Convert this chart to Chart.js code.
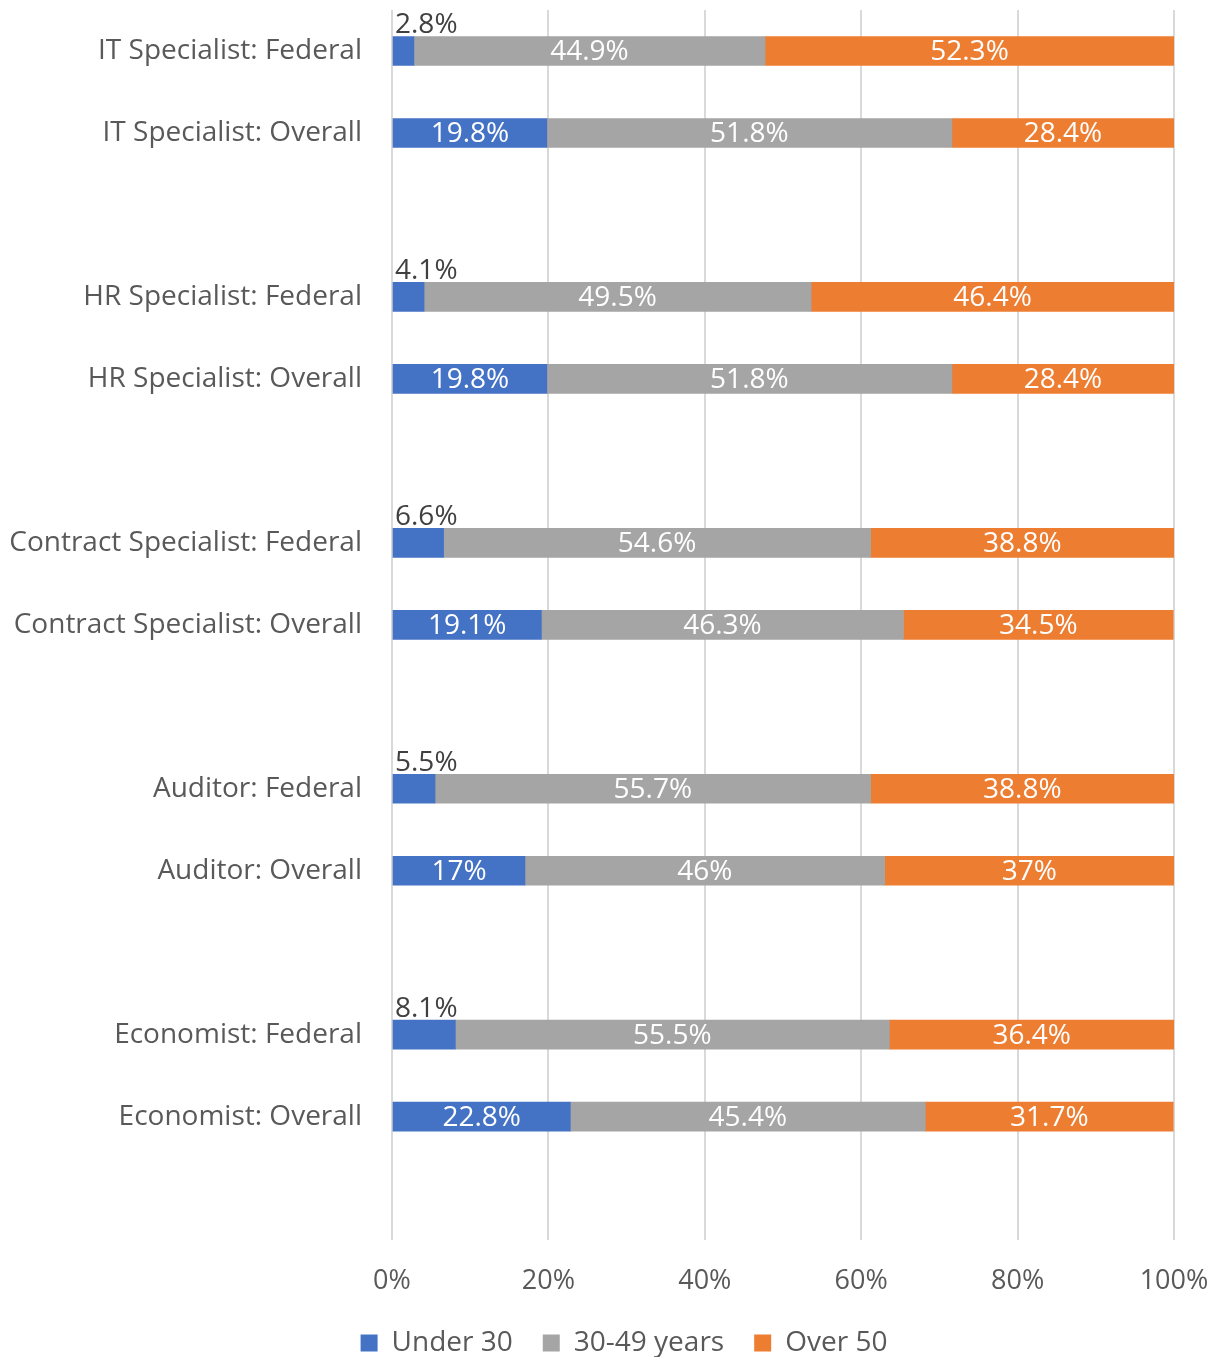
<!DOCTYPE html>
<html>
<head>
<meta charset="utf-8">
<script src="https://cdn.jsdelivr.net/npm/chart.js@4"></script>
<style>
  body { margin: 0; background: #fff; }
  canvas { display: block; }
</style>
</head>
<body>
<canvas id="ageChart" width="1217" height="1357"></canvas>
<script>
// rows top to bottom, blank rows separate the occupations
const categories = [
  'IT Specialist: Federal', 'IT Specialist: Overall', '',
  'HR Specialist: Federal', 'HR Specialist: Overall', '',
  'Contract Specialist: Federal', 'Contract Specialist: Overall', '',
  'Auditor: Federal', 'Auditor: Overall', '',
  'Economist: Federal', 'Economist: Overall', ''
];
const seriesNames = ['Under 30', '30-49 years', 'Over 50'];
const under30 = [2.8, 19.8, null, 4.1, 19.8, null, 6.6, 19.1, null, 5.5, 17, null, 8.1, 22.8, null];
const age30to49 = [44.9, 51.8, null, 49.5, 51.8, null, 54.6, 46.3, null, 55.7, 46, null, 55.5, 45.4, null];
const over50 = [52.3, 28.4, null, 46.4, 28.4, null, 38.8, 34.5, null, 38.8, 37, null, 36.4, 31.7, null];
const xTicks = [0, 20, 40, 60, 80, 100];

const FONT = '"Open Sans", sans-serif';

// value labels: white inside the bars, small federal "Under 30" shown above the bar
const barLabels = {
  id: 'barLabels',
  afterDatasetsDraw(chart) {
    const ctx = chart.ctx;
    ctx.save();
    ctx.font = '28px ' + FONT;
    chart.data.datasets.forEach((ds, di) => {
      const meta = chart.getDatasetMeta(di);
      meta.data.forEach((bar, i) => {
        const v = ds.data[i];
        if (v == null) return;
        const txt = v + '%';
        if (di === 0 && categories[i].endsWith('Federal')) {
          ctx.fillStyle = '#404040';
          ctx.textAlign = 'left';
          ctx.textBaseline = 'bottom';
          ctx.fillText(txt, bar.base + 2, bar.y - bar.height / 2 + 3);
        } else {
          ctx.fillStyle = '#ffffff';
          ctx.textAlign = 'center';
          ctx.textBaseline = 'middle';
          ctx.fillText(txt, (bar.x + bar.base) / 2, bar.y + 1);
        }
      });
    });
    ctx.restore();
  }
};

// legend sits a bit right of the canvas centre in the original
const shiftLegend = {
  id: 'shiftLegend',
  afterLayout(chart) {
    chart.legend.left += 37;
    chart.legend.right += 37;
  }
};

new Chart(document.getElementById('ageChart'), {
  type: 'bar',
  data: {
    labels: categories,
    datasets: [
      { label: seriesNames[0], data: under30, backgroundColor: '#4472C4' },
      { label: seriesNames[1], data: age30to49, backgroundColor: '#A5A5A5' },
      { label: seriesNames[2], data: over50, backgroundColor: '#ED7D31' }
    ]
  },
  options: {
    indexAxis: 'y',
    responsive: false,
    animation: false,
    datasets: { bar: { barThickness: 29 } },
    layout: { padding: { top: 10, right: 43, left: 0, bottom: -10 } },
    scales: {
      x: {
        stacked: true,
        min: 0,
        max: 100,
        afterBuildTicks: (s) => { s.ticks = xTicks.map(v => ({ value: v })); },
        afterFit: (s) => { s.paddingLeft = 0; s.paddingRight = 0; s.height -= 25; },
        ticks: {
          callback: (v) => v + '%',
          color: '#595959',
          font: { family: FONT, size: 27 },
          padding: 26,
          maxRotation: 0
        },
        grid: { color: '#d9d9d9', lineWidth: 2, drawTicks: false },
        border: { display: false }
      },
      y: {
        stacked: true,
        afterFit: (s) => { s.width = 392; s.paddingTop = 0; s.paddingBottom = 0; },
        ticks: {
          color: '#595959',
          font: { family: FONT, size: 28 },
          padding: 30,
          autoSkip: false
        },
        grid: { display: false, drawTicks: false },
        border: { display: false }
      }
    },
    plugins: {
      legend: {
        position: 'bottom',
        labels: {
          color: '#595959',
          font: { family: FONT, size: 28 },
          boxWidth: 17,
          boxHeight: 17,
          padding: 30
        }
      },
      tooltip: { enabled: false }
    }
  },
  plugins: [barLabels, shiftLegend]
});
</script>
</body>
</html>
